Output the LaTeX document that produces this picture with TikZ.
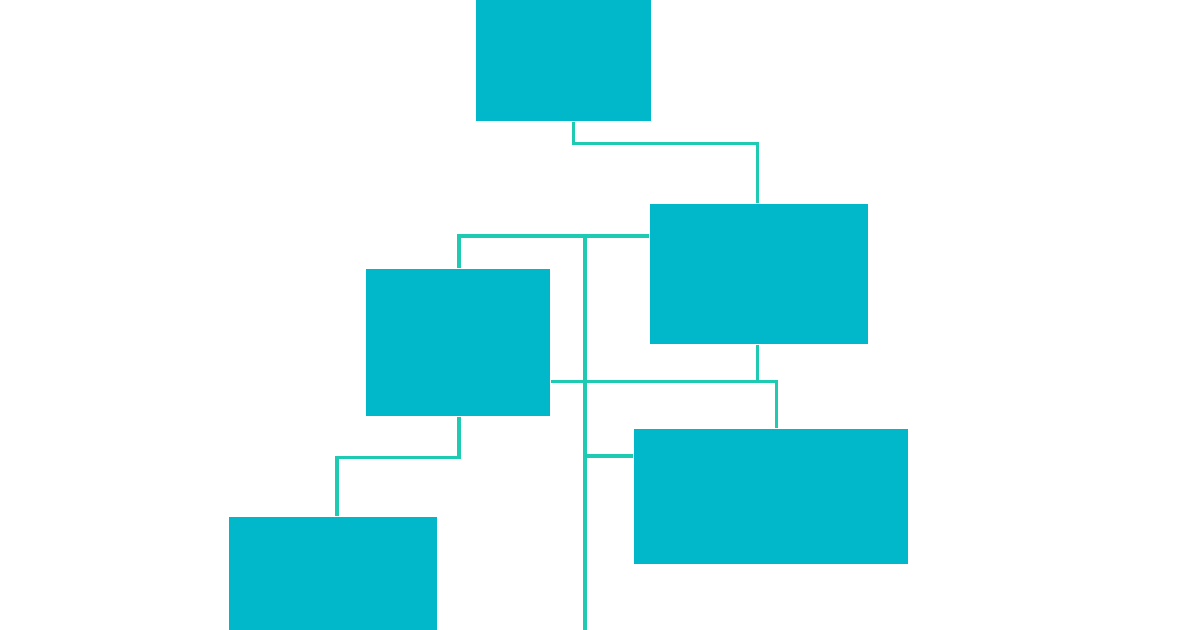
\documentclass[tikz,border=0pt]{standalone}
\usepackage{tikz}
\usetikzlibrary{calc}
\definecolor{boxteal}{RGB}{0,184,201}
\definecolor{linkteal}{RGB}{30,202,178}
\tikzset{
  tbox/.style={rectangle, fill=boxteal, draw=none, inner sep=0pt},
  link/.style={draw=linkteal, line width=0.9pt}
}
\begin{document}
\begin{tikzpicture}[x=0.1mm, y=-0.1mm]
                        \useasboundingbox[fill=white] (0,0) rectangle (1200,630);
                        % boxes
                        \node[tbox, minimum width=17.5mm, minimum height=12.1mm] (top) at (563.5,60.5) {};
                        \node[tbox, minimum width=21.8mm, minimum height=14mm] (rmid) at (759,274) {};
                        \node[tbox, minimum width=18.4mm, minimum height=14.7mm] (lmid) at (458,342.5) {};
                        \node[tbox, minimum width=27.4mm, minimum height=13.5mm] (rlow) at (771,496.5) {};
                        \node[tbox, minimum width=20.8mm, minimum height=11.3mm] (blow) at (333,573.5) {};
                        % junctions
                        \coordinate (jA) at (585,236);
                        \coordinate (jB) at (585,630);
                        \coordinate (jD) at (585,456);
                        % links
                        \draw[link] ([xshift=1mm]top.south) -- ++(0,22) -| ([xshift=-0.15mm]rmid.north);
                        \draw[link] ([xshift=0.1mm]lmid.north) |- (jA) -- (rmid.west |- jA);
                        \draw[link] (jA) -- (jB);
                        \draw[link] ([xshift=-0.15mm]rmid.south) -- ++(0,37) coordinate (jC);
                        \draw[link] (lmid.east |- jC) -| ([xshift=0.55mm]rlow.north);
                        \draw[link] (jD) -- (rlow.west |- jD);
                        \draw[link] ([xshift=0.1mm]lmid.south) -- ++(0,41) -| ([xshift=0.4mm]blow.north);
                \end{tikzpicture}
\end{document}
